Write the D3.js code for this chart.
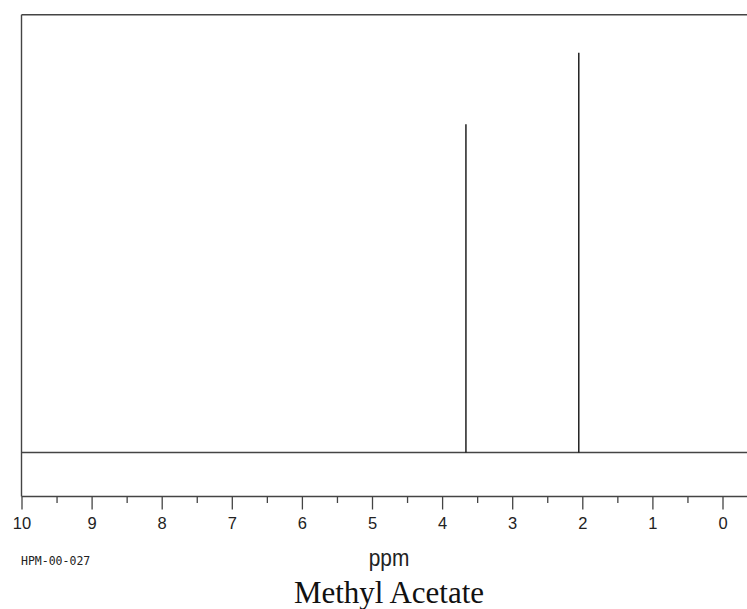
<!DOCTYPE html>
<html><head><meta charset="utf-8">
<script src="https://cdn.jsdelivr.net/npm/d3@7/dist/d3.min.js"></script>
<style>html,body{margin:0;padding:0;background:#fff;}svg{display:block;}</style>
</head><body>
<script>
const peakPpm = [3.66, 2.05];
const peakIntensity = [82.1, 100];
const majorTicks = [10, 9, 8, 7, 6, 5, 4, 3, 2, 1, 0];
const minorTicks = [9.5, 8.5, 7.5, 6.5, 5.5, 4.5, 3.5, 2.5, 1.5, 0.5];
const xTitle = "ppm";
const chartTitle = "Methyl Acetate";
const sampleId = "HPM-00-027";

(function () {
const W = 747, H = 609;
const svg = d3.select("body").append("svg").attr("width", W).attr("height", H);
const x = d3.scaleLinear().domain([10, 0]).range([21.5, 722.5]);
const y = d3.scaleLinear().domain([0, 100]).range([452.5, 52.7]);
const leftX = 21.5, rightX = W, topY = 14.7, axisY = 496.5;
const lc = "#444";

// frame
svg.append("line").attr("x1", leftX).attr("x2", rightX).attr("y1", topY).attr("y2", topY).attr("stroke", lc).attr("stroke-width", 1.4);
svg.append("line").attr("x1", leftX).attr("x2", leftX).attr("y1", topY).attr("y2", axisY).attr("stroke", lc).attr("stroke-width", 1.4);

// baseline
svg.append("line").attr("x1", leftX).attr("x2", rightX).attr("y1", y(0)).attr("y2", y(0)).attr("stroke", lc).attr("stroke-width", 1.3);

// peaks
svg.selectAll(".peak").data(peakPpm).enter().append("line")
  .attr("x1", d => x(d)).attr("x2", d => x(d))
  .attr("y1", y(0)).attr("y2", (d, i) => y(peakIntensity[i]))
  .attr("stroke", "#111").attr("stroke-width", 1.4);

// axis
const axis = d3.axisBottom(x).tickValues(majorTicks).tickSize(13).tickPadding(8).tickFormat(d3.format("d"));
const g = svg.append("g").attr("transform", `translate(0,${axisY})`).call(axis);
g.select(".domain").remove();
g.append("line").attr("x1", leftX).attr("x2", rightX).attr("y1", 0).attr("y2", 0).attr("stroke", lc).attr("stroke-width", 1.4);
g.selectAll(".tick line").attr("stroke", lc).attr("stroke-width", 1.3);
g.selectAll(".tick text").attr("font-family", "Liberation Sans, Arial, sans-serif").attr("font-size", 16.5).attr("fill", "#222").attr("dy", "0.71em");
const minorAxis = d3.axisBottom(x).tickValues(minorTicks).tickSize(6.5).tickFormat("");
const gm = svg.append("g").attr("transform", `translate(0,${axisY})`).call(minorAxis);
gm.select(".domain").remove();
gm.selectAll(".tick line").attr("stroke", lc).attr("stroke-width", 1.3);

// texts
svg.append("text").attr("x", 21).attr("y", 565).attr("font-family", "DejaVu Sans Mono, monospace")
  .attr("font-size", 11.5).attr("fill", "#222").text(sampleId);
svg.append("text").attr("transform", "translate(389,566) scale(0.87,1)").attr("text-anchor", "middle")
  .attr("font-family", "Liberation Sans, Arial, sans-serif").attr("font-size", 24).attr("fill", "#222").text(xTitle);
svg.append("text").attr("x", 389).attr("y", 603).attr("text-anchor", "middle")
  .attr("font-family", "Liberation Serif, Times New Roman, serif").attr("font-size", 31).attr("fill", "#111").text(chartTitle);
})();
</script>
</body></html>
